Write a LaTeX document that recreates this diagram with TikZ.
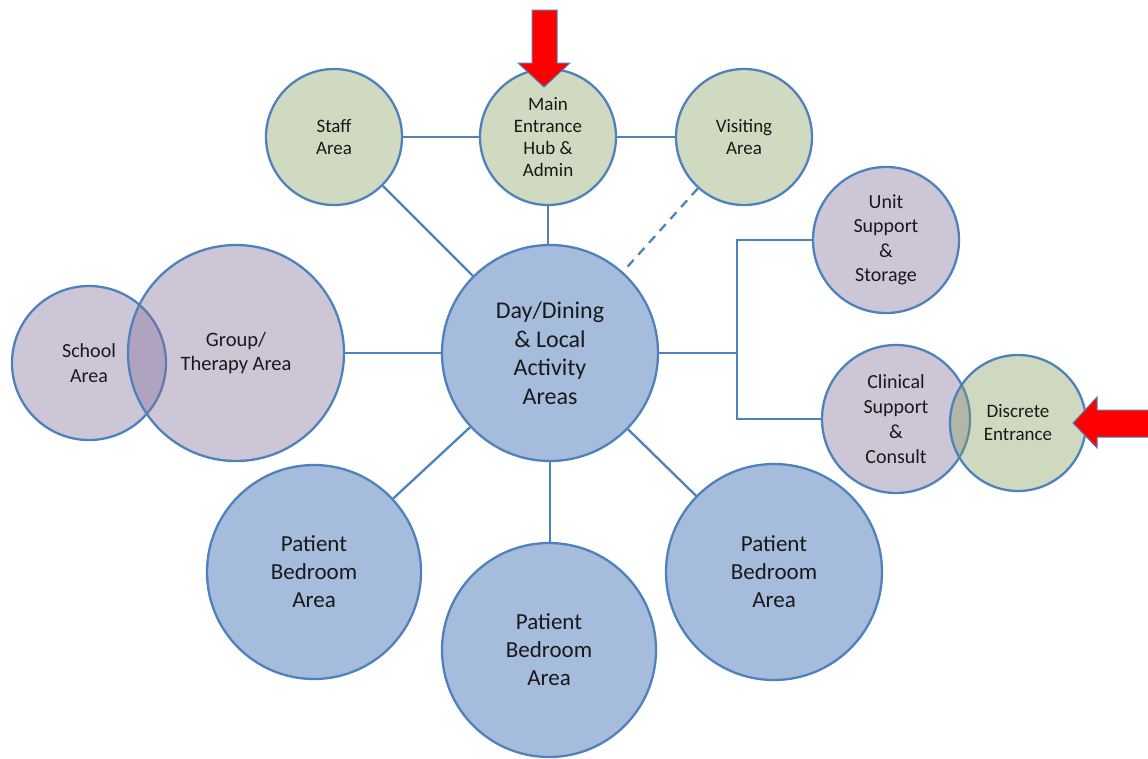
\documentclass[tikz,border=0pt]{standalone}
\usepackage{fontspec}
\setmainfont{Carlito}
\usetikzlibrary{calc}
\definecolor{edgeblue}{RGB}{79,129,189}
\definecolor{sage}{RGB}{208,218,192}
\definecolor{sagedeep}{RGB}{135,160,95}
\definecolor{lilac}{RGB}{205,198,215}
\definecolor{lilacdeep}{RGB}{130,112,155}
\definecolor{sky}{RGB}{166,188,220}
\newcommand{\zfont}[2]{\fontsize{#1}{#2}\selectfont}
\tikzset{zone/.style={circle,draw=edgeblue,line width=2.3pt,align=center,inner sep=0pt,text=black!90},link/.style={draw=edgeblue,line width=2.3pt},entry/.style={fill=red,draw=edgeblue,line width=1pt,line join=miter},seen/.style={fill opacity=0.4,text opacity=1}}

\begin{document}
\begin{tikzpicture}[x=1pt,y=-1pt]
\useasboundingbox (0,0) rectangle (1148,758);
% top row
\node[zone,fill=sage,minimum size=136,font=\zfont{19}{22}] (staff) at (334,137) {Staff\\Area};
\node[zone,fill=sage,minimum size=136,font=\zfont{19}{22}] (main) at (548,137) {Main\\Entrance\\Hub \&\\Admin};
\node[zone,fill=sage,minimum size=136,font=\zfont{19}{22}] (visit) at (744,137) {Visiting\\Area};
% hub
\node[zone,fill=sky,minimum size=216,font=\zfont{24}{28.5}] (day) at (550,353) {Day/Dining\\\& Local\\Activity\\Areas};
% left pair
\node[zone,fill=lilac,minimum size=154,font=\zfont{20}{25}] (school) at (89,363) {School\\Area};
\node[zone,fill=lilacdeep,seen,minimum size=216,font=\zfont{20.5}{24}] (group) at (236,353) {Group/\\Therapy Area};
% right side
\node[zone,fill=lilac,minimum size=146,font=\zfont{20}{24.5}] (unit) at (886,240) {Unit\\Support\\\&\\Storage};
\node[zone,fill=lilac,minimum size=148,font=\zfont{20}{25}] (clin) at (896,419) {Clinical\\Support\\\&\\Consult};
\node[zone,fill=sagedeep,seen,minimum size=136,font=\zfont{19}{23}] (discrete) at (1018,423) {Discrete\\Entrance};
% bedrooms
\node[zone,fill=sky,minimum size=214,font=\zfont{23}{28}] (bedL) at (314,572) {Patient\\Bedroom\\Area};
\node[zone,fill=sky,minimum size=214,font=\zfont{23}{28}] (bedM) at (549,650) {Patient\\Bedroom\\Area};
\node[zone,fill=sky,minimum size=216,font=\zfont{23}{28}] (bedR) at (774,572) {Patient\\Bedroom\\Area};
\coordinate (jn) at (737,353);

\draw[link] (staff) -- (main);
\draw[link] (main) -- (visit);
\draw[link] (staff) -- (day);
\draw[link] (main.south) -- (main.south |- day.north);
\draw[link,dash pattern=on 9pt off 7pt] (visit) -- (day);
\draw[link] (group) -- (day);
\draw[link] (day) -- (jn);
\draw[link] (unit) -| (jn) |- (clin);
\draw[link] (day) -- (bedL);
\draw[link] (day) -- (bedM.north -| day.south);
\draw[link] (day) -- (bedR);

% entrance arrows
\draw[entry] (532,10) -- (557,10) -- (557,63) -- (570,63) -- (544,87) -- (518,63) -- (532,63) -- cycle;
\draw[entry] (1152,410) -- (1097,410) -- (1097,397) -- (1073,423) -- (1097,448) -- (1097,437) -- (1152,437);
\end{tikzpicture}
\end{document}
